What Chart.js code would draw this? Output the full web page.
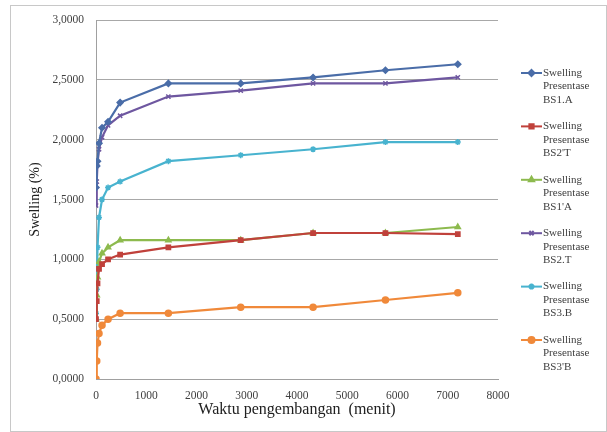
<!DOCTYPE html>
<html>
<head>
<meta charset="utf-8">
<script src="https://cdn.jsdelivr.net/npm/chart.js@4"></script>
<style>
    html, body { margin: 0; padding: 0; background: #fff; }
    #wrap { width: 607px; height: 432px; position: relative; }
</style>
</head>
<body>
<div id="wrap"><canvas id="swellChart" width="607" height="432"></canvas></div>
<script>
// waktu (menit)
const times = [0, 15, 30, 60, 120, 240, 480, 1440, 2880, 4320, 5760, 7200];

const bs1A  = [1.60, 1.78, 1.82, 1.97, 2.10, 2.15, 2.31, 2.47, 2.47, 2.52, 2.58, 2.63];
const bs2T  = [0.50, 0.65, 0.80, 0.92, 0.96, 1.00, 1.04, 1.10, 1.16, 1.22, 1.22, 1.21];
const bs1pA = [0.50, 0.70, 0.85, 0.98, 1.05, 1.10, 1.16, 1.16, 1.16, 1.22, 1.22, 1.27];
const bs2pT = [1.45, 1.65, 1.80, 1.92, 2.02, 2.12, 2.20, 2.36, 2.41, 2.47, 2.47, 2.52];
const bs3B  = [0.55, 0.75, 1.10, 1.35, 1.50, 1.60, 1.65, 1.82, 1.87, 1.92, 1.98, 1.98];
const bs3pB = [0.00, 0.15, 0.30, 0.38, 0.45, 0.50, 0.55, 0.55, 0.60, 0.60, 0.66, 0.72];

const seriesLabels = [
    ['Swelling', 'Presentase', 'BS1.A'],
    ['Swelling', 'Presentase', 'BS2\'T'],
    ['Swelling', 'Presentase', 'BS1\'A'],
    ['Swelling', 'Presentase', 'BS2.T'],
    ['Swelling', 'Presentase', 'BS3.B'],
    ['Swelling', 'Presentase', 'BS3\'B']
];
const seriesValues = [bs1A, bs2T, bs1pA, bs2pT, bs3B, bs3pB];
const seriesColors = ['#4A6DA8', '#C0413B', '#8DBA4E', '#6E57A0', '#48B3CF', '#F0893A'];
const seriesMarkers = ['rectRot', 'rect', 'triangle', 'crossRot', 'star', 'circle'];

const serif = "'Liberation Serif', 'DejaVu Serif', serif";

function toPoints(values) {
    return values.map((v, i) => ({ x: times[i], y: v }));
}

// legend digambar manual supaya label bisa 3 baris
const sideLegend = {
    id: 'sideLegend',
    afterDraw(chart) {
        const ctx = chart.ctx;
        ctx.save();
        ctx.font = '11px ' + serif;
        ctx.textBaseline = 'middle';
        chart.data.datasets.forEach((ds, i) => {
            const y = 73 + i * 53.4;
            ctx.strokeStyle = ds.borderColor;
            ctx.lineWidth = 2;
            ctx.beginPath();
            ctx.moveTo(521, y);
            ctx.lineTo(542, y);
            ctx.stroke();
            Chart.helpers.drawPoint(ctx, {
                pointStyle: ds.pointStyle, radius: 3, borderWidth: 1.5, rotation: 0
            }, 531.5, y);
            ctx.fillStyle = ds.borderColor;
            if (['rectRot', 'rect', 'triangle', 'circle'].includes(ds.pointStyle)) ctx.fill();
            ctx.fillStyle = '#404040';
            seriesLabels[i].forEach((t, k) => ctx.fillText(t, 543, y + k * 13.5));
        });
        ctx.restore();
    }
};

const frame = {
    id: 'frame',
    afterDraw(chart) {
        const ctx = chart.ctx;
        ctx.save();
        ctx.strokeStyle = '#c8c8c8';
        ctx.lineWidth = 1;
        ctx.strokeRect(10.5, 5.5, 596, 426);
        ctx.restore();
    }
};

new Chart(document.getElementById('swellChart').getContext('2d'), {
    type: 'scatter',
    data: {
        datasets: seriesValues.map((vals, i) => ({
            label: seriesLabels[i].join(' '),
            data: toPoints(vals),
            showLine: true,
            borderColor: seriesColors[i],
            backgroundColor: seriesColors[i],
            borderWidth: 2.2,
            pointStyle: seriesMarkers[i],
            pointRadius: 3,
            pointBorderWidth: 1.5,
            pointBackgroundColor: seriesColors[i],
            pointBorderColor: seriesColors[i]
        }))
    },
    options: {
        responsive: false,
        animation: false,
        layout: { padding: { top: 20, right: 109, left: 0, bottom: 0 } },
        plugins: {
            legend: { display: false },
            tooltip: { enabled: false }
        },
        scales: {
            x: {
                type: 'linear',
                min: 0,
                max: 8000,
                ticks: {
                    stepSize: 1000,
                    color: '#404040',
                    font: { family: serif, size: 11.5 },
                    padding: 2,
                    callback: (v) => String(v)
                },
                grid: { display: false, drawTicks: true },
                border: { color: '#a0a0a0' },
                title: { display: true, text: 'Waktu pengembangan  (menit)', color: '#202020',
                         font: { family: serif, size: 16 }, padding: { bottom: 13 } },
                afterFit: (scale) => { scale.height = 53; }
            },
            y: {
                min: 0,
                max: 3,
                ticks: {
                    stepSize: 0.5,
                    color: '#404040',
                    font: { family: serif, size: 11.5 },
                    padding: 12,
                    callback: (v) => v.toFixed(4).replace('.', ',')
                },
                grid: { color: '#a8a8a8', drawTicks: false },
                border: { color: '#a0a0a0' },
                title: { display: true, text: 'Swelling (%)', color: '#202020',
                         font: { family: serif, size: 14 }, padding: { top: 27 } },
                afterFit: (scale) => { scale.width = 96; }
            }
        }
    },
    plugins: [sideLegend, frame]
});
</script>
</body>
</html>
